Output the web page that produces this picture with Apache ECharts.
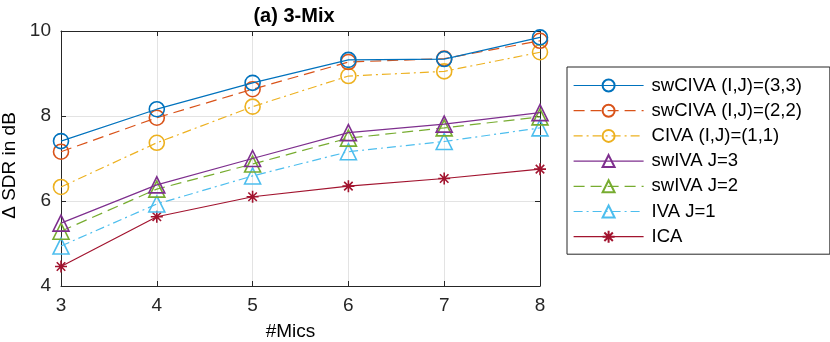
<!DOCTYPE html>
<html>
<head>
<meta charset="utf-8">
<script src="https://cdn.jsdelivr.net/npm/echarts@6/dist/echarts.min.js"></script>
<style>
  html, body { margin: 0; padding: 0; background: #fff; }
  #chart { width: 830px; height: 342px; }
</style>
</head>
<body>
<div id="chart"></div>
<script>
// number of microphones
var mics = [3, 4, 5, 6, 7, 8];

// Δ SDR values (dB)
var swCIVA33 = [7.41, 8.16, 8.78, 9.32, 9.34, 9.85];
var swCIVA22 = [7.16, 7.96, 8.63, 9.27, 9.35, 9.77];
var civa11   = [6.33, 7.37, 8.22, 8.94, 9.05, 9.50];
var swIVA3   = [5.48, 6.38, 7.00, 7.61, 7.81, 8.08];
var swIVA2   = [5.29, 6.28, 6.87, 7.48, 7.72, 7.98];
var iva1     = [4.94, 5.93, 6.59, 7.16, 7.40, 7.72];
var ica      = [4.46, 5.63, 6.10, 6.35, 6.53, 6.75];

var yTicks = [4, 6, 8, 10];

var seriesNames = ['swCIVA (I,J)=(3,3)', 'swCIVA (I,J)=(2,2)', 'CIVA (I,J)=(1,1)',
                   'swIVA J=3', 'swIVA J=2', 'IVA J=1', 'ICA'];
var seriesData = [swCIVA33, swCIVA22, civa11, swIVA3, swIVA2, iva1, ica];
var colors = ['#0072BD', '#D95319', '#EDB120', '#7E2F8E', '#77AC30', '#4DBEEE', '#A2142F'];

var dashed = [11, 6];
var dashDot = [9, 4, 2, 4];
var lineTypes = ['solid', dashed, dashDot, 'solid', dashed, dashDot, 'solid'];

// MATLAB style asterisk (+ and x)
var asterisk = 'path://M10,0L10,20M0,10L20,10M2.93,2.93L17.07,17.07M2.93,17.07L17.07,2.93';
var symbols = ['circle', 'circle', 'circle', 'triangle', 'triangle', 'triangle', asterisk];
var sizes = [15, 15, 15, 16, 16, 16, 12];

var axisColor = '#262626';
var font = 'Liberation Sans, Arial, Helvetica, sans-serif';

var myChart = echarts.init(document.getElementById('chart'), null, { renderer: 'canvas' });

var series = seriesNames.map(function (name, i) {
    return {
        name: name,
        type: 'line',
        data: mics.map(function (m, k) { return [m, seriesData[i][k]]; }),
        symbol: symbols[i],
        symbolSize: sizes[i],
        showAllSymbol: true,
        z: 10 - i,
        lineStyle: { color: colors[i], width: 1.2, type: lineTypes[i] },
        itemStyle: { color: 'none', borderColor: colors[i], borderWidth: 1.6 },
        emphasis: { disabled: true },
        animation: false
    };
});

var option = {
    animation: false,
    backgroundColor: '#fff',
    title: {
        text: '(a) 3-Mix',
        left: 289,
        top: 1,
        textAlign: 'center',
        textStyle: { fontFamily: font, fontWeight: 'bold', fontSize: 20, color: '#000' }
    },
    grid: { left: 61, top: 31, width: 479, height: 255, show: false,
            containLabel: false, outerBoundsMode: 'none' },
    legend: {
        orient: 'vertical',
        left: 567,
        top: 67,
        itemWidth: 70,
        itemHeight: 15,
        itemGap: 6.2,
        padding: [9, 28, 8, 6],
        borderColor: axisColor,
        borderWidth: 1,
        backgroundColor: '#fff',
        selectedMode: false,
        data: seriesNames,
        lineStyle: { width: 1.2 },
        textStyle: { fontFamily: font, fontSize: 18.5, color: '#000', padding: [0, 0, 0, 3] }
    },
    xAxis: [{
        type: 'value',
        min: 3, max: 8, interval: 1,
        name: '#Mics',
        nameLocation: 'middle',
        nameGap: 36,
        nameTextStyle: { fontFamily: font, fontSize: 19, color: '#000', padding: [0, 20, 0, 0] },
        axisLine: { show: true, lineStyle: { color: axisColor, width: 1 } },
        axisTick: { show: true, inside: true, length: 5, lineStyle: { color: axisColor } },
        axisLabel: { fontFamily: font, fontSize: 19, color: '#262626', margin: 10 },
        splitLine: { show: true, lineStyle: { color: '#e3e3e3', width: 1 } }
    }, {
        type: 'value',
        position: 'top',
        min: 3, max: 8, interval: 1,
        axisLine: { show: true, onZero: false, lineStyle: { color: axisColor, width: 1 } },
        axisTick: { show: true, inside: true, length: 5, lineStyle: { color: axisColor } },
        axisLabel: { show: false },
        splitLine: { show: false }
    }],
    yAxis: [{
        type: 'value',
        min: yTicks[0], max: yTicks[yTicks.length - 1], interval: 2,
        name: 'Δ SDR in dB',
        nameLocation: 'middle',
        nameGap: 38,
        nameTextStyle: { fontFamily: font, fontSize: 19, color: '#000', padding: [0, 0, 0, -14] },
        axisLine: { show: true, lineStyle: { color: axisColor, width: 1 } },
        axisTick: { show: true, inside: true, length: 5, lineStyle: { color: axisColor } },
        axisLabel: { fontFamily: font, fontSize: 19, color: '#262626', margin: 10 },
        splitLine: { show: true, lineStyle: { color: '#e3e3e3', width: 1 } }
    }, {
        type: 'value',
        position: 'right',
        min: yTicks[0], max: yTicks[yTicks.length - 1], interval: 2,
        axisLine: { show: true, onZero: false, lineStyle: { color: axisColor, width: 1 } },
        axisTick: { show: true, inside: true, length: 5, lineStyle: { color: axisColor } },
        axisLabel: { show: false },
        splitLine: { show: false }
    }],
    series: series
};

myChart.setOption(option);
</script>
</body>
</html>
